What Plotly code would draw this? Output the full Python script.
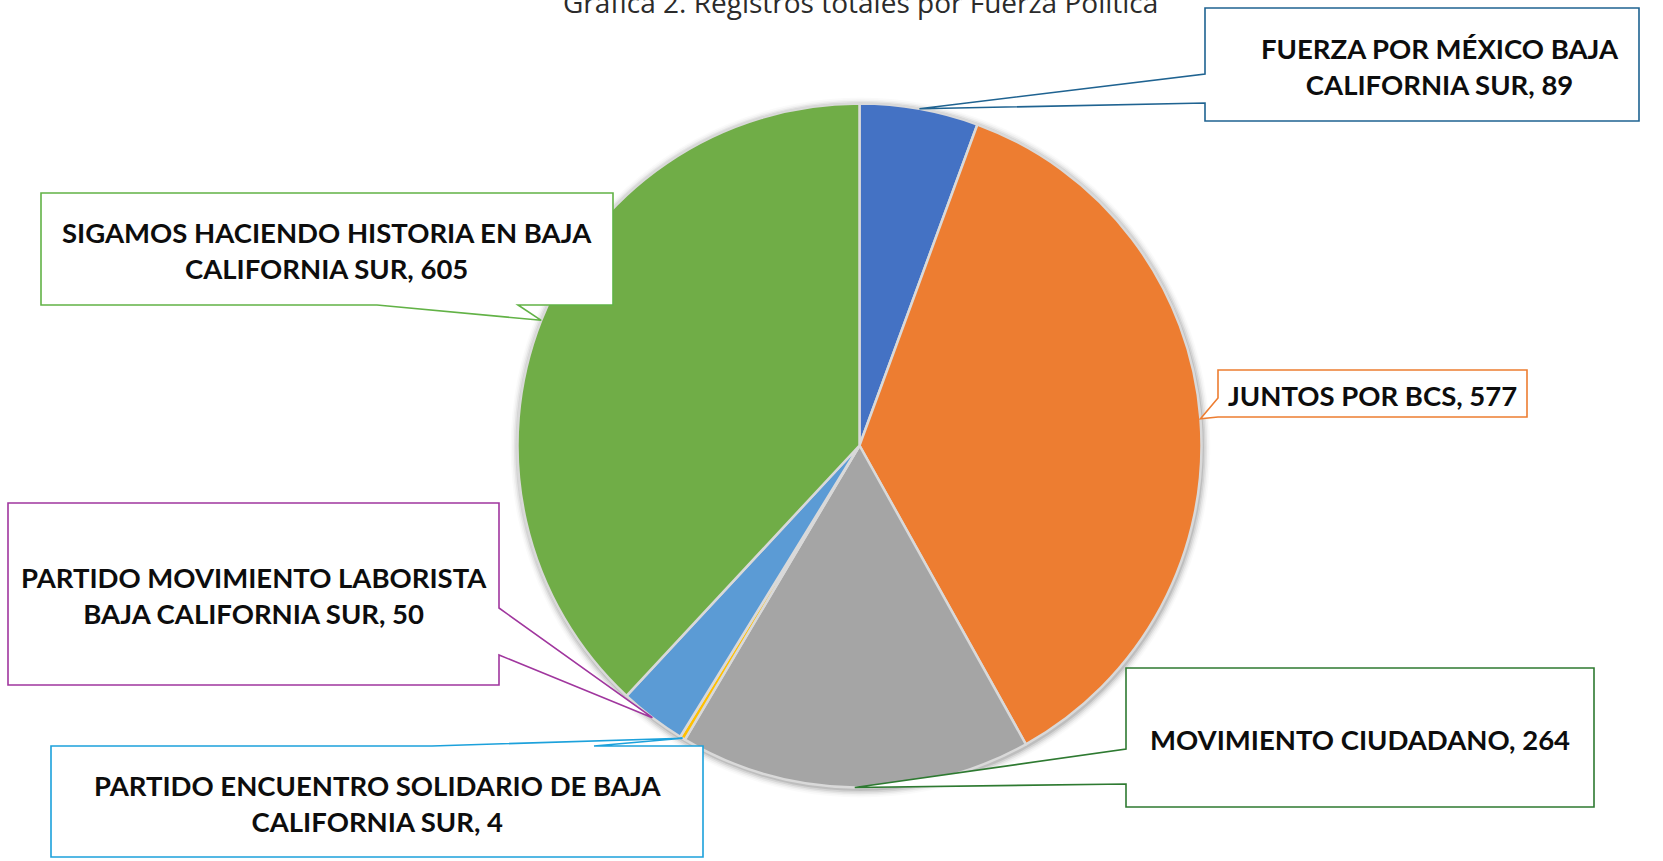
import math
import plotly.graph_objects as go

# ---------------- data ----------------
parties = [
    "FUERZA POR MÉXICO BAJA CALIFORNIA SUR",
    "JUNTOS POR BCS",
    "MOVIMIENTO CIUDADANO",
    "PARTIDO ENCUENTRO SOLIDARIO DE BAJA CALIFORNIA SUR",
    "PARTIDO MOVIMIENTO LABORISTA BAJA CALIFORNIA SUR",
    "SIGAMOS HACIENDO HISTORIA EN BAJA CALIFORNIA SUR",
]
registros = [89, 577, 264, 4, 50, 605]
slice_colors = ["#4472C4", "#ED7D31", "#A5A5A5", "#FFC000", "#5B9BD5", "#70AD47"]
title_text = "Gráfica 2. Registros totales por Fuerza Política"

# ---------------- layout helpers (pixels) ----------------
W, H = 1663, 861
CX, CY, R = 859.5, 445.5, 342.0

# callout boxes: (x0, y0, x1, y1), pointer side, pointer base coords, colour,
# words on first line, horizontal text offset
callouts = [
    dict(box=(1205, 8, 1639, 121), side="left", base=(74, 103), color="#1F6391", brk=4, dx=18),
    dict(box=(1218, 370, 1527, 417), side="left", base=(398, 417), color="#ED7D31", brk=None, dx=0),
    dict(box=(1126, 668, 1594, 807), side="left", base=(749, 784), color="#2E7A31", brk=None, dx=0),
    dict(box=(51, 746, 703, 857), side="top", base=(432, 594), color="#1CA1DB", brk=5, dx=0),
    dict(box=(8, 503, 499, 685), side="right", base=(608, 655), color="#A0369E", brk=3, dx=0),
    dict(box=(41, 193, 613, 305), side="bottom", base=(377, 518), color="#62B246", brk=5, dx=0),
]

total = sum(registros)
fig = go.Figure()

# invisible scatter to create a pixel coordinate system
fig.add_trace(go.Scatter(x=[0], y=[0], mode="markers", marker=dict(opacity=0),
                         hoverinfo="skip", showlegend=False))

fig.add_trace(go.Pie(
    labels=parties,
    values=registros,
    sort=False,
    direction="clockwise",
    rotation=0,
    textinfo="none",
    hoverinfo="label+value",
    marker=dict(colors=slice_colors, line=dict(color="#D9D9D9", width=2.5)),
    domain=dict(x=[(CX - R) / W, (CX + R) / W], y=[1 - (CY + R) / H, 1 - (CY - R) / H]),
    showlegend=False,
))

shapes = []
# soft shadow around the pie
for i, op in enumerate([0.10, 0.07, 0.05, 0.03, 0.02]):
    rr = R + 1.5 + i * 1.6
    shapes.append(dict(type="circle", xref="x", yref="y", layer="below",
                       x0=CX + 1 - rr, x1=CX + 1 + rr, y0=CY + 2 - rr, y1=CY + 2 + rr,
                       fillcolor="rgba(0,0,0,%.3f)" % op, line=dict(width=0)))

annotations = []
cum = 0.0
for name, val, c in zip(parties, registros, callouts):
    mid = (cum + val / 2.0) / total * 2 * math.pi
    cum += val
    tx = CX + R * math.sin(mid)
    ty = CY - R * math.cos(mid)
    x0, y0, x1, y1 = c["box"]
    b1, b2 = c["base"]
    if c["side"] == "left":
        pts = [(x0, y0), (x1, y0), (x1, y1), (x0, y1), (x0, b2), (tx, ty), (x0, b1)]
    elif c["side"] == "right":
        pts = [(x0, y0), (x1, y0), (x1, b1), (tx, ty), (x1, b2), (x1, y1), (x0, y1)]
    elif c["side"] == "top":
        pts = [(x0, y0), (b1, y0), (tx, ty), (b2, y0), (x1, y0), (x1, y1), (x0, y1)]
    else:  # bottom
        pts = [(x0, y0), (x1, y0), (x1, y1), (b2, y1), (tx, ty), (b1, y1), (x0, y1)]
    path = "M " + " L ".join("%.1f,%.1f" % p for p in pts) + " Z"
    shapes.append(dict(type="path", xref="x", yref="y", layer="above", path=path,
                       fillcolor="white", line=dict(color=c["color"], width=1.6)))
    words = ("%s, %d" % (name, val)).split(" ")
    if c["brk"]:
        text = " ".join(words[:c["brk"]]) + "<br>" + " ".join(words[c["brk"]:])
    else:
        text = " ".join(words)
    annotations.append(dict(x=(x0 + x1) / 2 + c["dx"], y=(y0 + y1) / 2 + 1.5, xref="x", yref="y",
                            text=text, showarrow=False, xanchor="center", yanchor="middle",
                            align="center",
                            font=dict(family="Lato", size=27.5, color="#0D0D0D", weight="bold")))

annotations.append(dict(x=860 / W, y=1 - 2.0 / H, xref="paper", yref="paper", text=title_text,
                        showarrow=False, xanchor="center", yanchor="middle",
                        font=dict(family="Open Sans", size=28, color="#2B2B2B")))

fig.update_layout(
    width=W, height=H,
    margin=dict(l=0, r=0, t=0, b=0),
    paper_bgcolor="white", plot_bgcolor="white",
    xaxis=dict(range=[0, W], visible=False, fixedrange=True),
    yaxis=dict(range=[H, 0], visible=False, fixedrange=True),
    shapes=shapes,
    annotations=annotations,
    showlegend=False,
)

fig.write_html(
    "out.html",
    config={"displayModeBar": False},
    post_script="document.body.style.margin='0px';"
                "document.body.style.overflow='hidden';"
                "document.documentElement.style.overflow='hidden';",
)
